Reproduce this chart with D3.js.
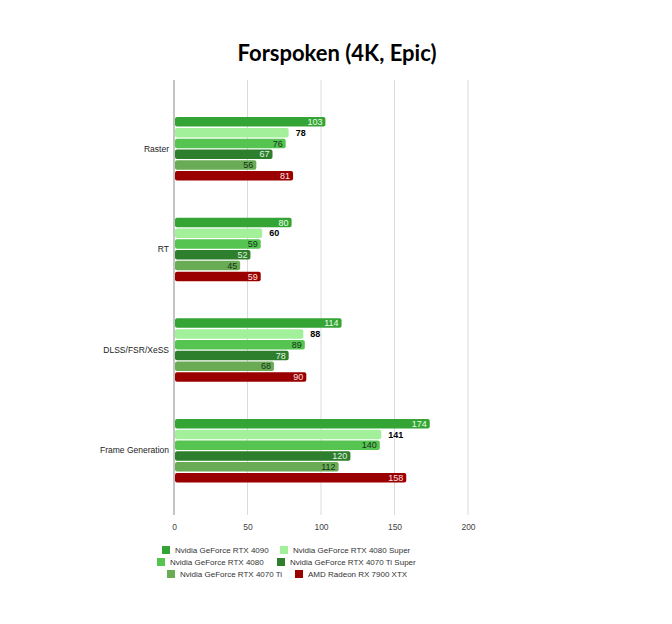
<!DOCTYPE html>
<html><head><meta charset="utf-8">
<script src="https://cdn.jsdelivr.net/npm/d3@7"></script>
<style>body{margin:0;background:#fff}svg{display:block}</style>
</head><body>
<script>
const categories = ["Raster", "RT", "DLSS/FSR/XeSS", "Frame Generation"];
const seriesNames = ["Nvidia GeForce RTX 4090", "Nvidia GeForce RTX 4080 Super", "Nvidia GeForce RTX 4080", "Nvidia GeForce RTX 4070 Ti Super", "Nvidia GeForce RTX 4070 Ti", "AMD Radeon RX 7900 XTX"];
const rtx4090 = [103, 80, 114, 174];
const rtx4080Super = [78, 60, 88, 141];
const rtx4080 = [76, 59, 89, 140];
const rtx4070TiSuper = [67, 52, 78, 120];
const rtx4070Ti = [56, 45, 68, 112];
const rx7900xtx = [81, 59, 90, 158];
const xTicks = [0, 50, 100, 150, 200];
const colors = ["#34a534", "#a3f09b", "#55c451", "#2d7f2d", "#6aac55", "#9b0000"];
const labelColors = ["#eaffea", "#000000", "#14331a", "#e0f5e0", "#14331a", "#ffe0e0"];
const allSeries = [rtx4090, rtx4080Super, rtx4080, rtx4070TiSuper, rtx4070Ti, rx7900xtx];

const W = 672, H = 624;
const svg = d3.select("body").append("svg").attr("width", W).attr("height", H);

const x = d3.scaleLinear().domain([0, 200]).range([174, 468]);
const y = d3.scaleBand().domain(categories).range([98.5, 501]).paddingInner(0.37).paddingOuter(0.185);
const ys = d3.scaleBand().domain(d3.range(seriesNames.length)).range([0, y.bandwidth()]).paddingInner(0.12);

svg.append("text").attr("x", 337).attr("y", 61).attr("text-anchor", "middle")
  .attr("font-family", "Lato, 'Open Sans', sans-serif").attr("font-weight", "bold")
  .attr("font-size", 22).attr("fill", "#000").text("Forspoken (4K, Epic)");

// grid
svg.append("g").selectAll("line").data(xTicks.slice(1)).join("line")
  .attr("x1", d => x(d)).attr("x2", d => x(d)).attr("y1", 80).attr("y2", 515)
  .attr("stroke", "#dadada").attr("stroke-width", 1);

// x axis labels
const xAxis = d3.axisBottom(x).tickValues(xTicks).tickSize(0).tickPadding(0);
const gx = svg.append("g").attr("transform", "translate(0,524)").call(xAxis);
gx.select(".domain").remove();
gx.selectAll("text").attr("font-family", "Liberation Sans, Arial, sans-serif").attr("font-size", 8.5).attr("fill", "#444");

// y axis labels
const yAxis = d3.axisLeft(y).tickSize(0).tickPadding(5);
const gy = svg.append("g").attr("transform", "translate(174,0)").call(yAxis);
gy.select(".domain").remove();
gy.selectAll("text").attr("font-family", "Liberation Sans, Arial, sans-serif").attr("font-size", 8.5).attr("fill", "#222");

// bars
const groups = svg.append("g").selectAll("g").data(categories).join("g")
  .attr("transform", d => `translate(0,${y(d)})`);
groups.each(function(cat, ci) {
  const g = d3.select(this);
  allSeries.forEach((s, si) => {
    const v = s[ci];
    g.append("rect").attr("x", x(0) + 1).attr("y", ys(si)).attr("width", x(v) - x(0) - 1)
      .attr("height", ys.bandwidth()).attr("rx", 2).attr("fill", colors[si]);
    const outside = si === 1;
    g.append("text")
      .attr("x", outside ? x(v) + 7 : x(v) - 3)
      .attr("y", ys(si) + ys.bandwidth() / 2 + 3.2)
      .attr("text-anchor", outside ? "start" : "end")
      .attr("font-family", "Liberation Sans, Arial, sans-serif")
      .attr("font-size", 9).attr("font-weight", outside ? "bold" : "normal")
      .attr("fill", labelColors[si]).text(v);
  });
});

// axis line
svg.append("line").attr("x1", 174).attr("x2", 174).attr("y1", 80).attr("y2", 515)
  .attr("stroke", "#b0b0b0").attr("stroke-width", 1.5);

// legend
const legendRows = [[0, 1], [2, 3], [4, 5]];
const legendY = [550, 562, 574];
const legendX = [[162, 280], [157, 277], [167, 295]];
legendRows.forEach((row, ri) => {
  row.forEach((si, k) => {
    const lx = legendX[ri][k];
    svg.append("rect").attr("x", lx).attr("y", legendY[ri] - 4).attr("width", 8).attr("height", 8).attr("fill", colors[si]);
    svg.append("text").attr("x", lx + 13).attr("y", legendY[ri] + 3)
      .attr("font-family", "Liberation Sans, Arial, sans-serif").attr("font-size", 8)
      .attr("fill", "#333").text(seriesNames[si]);
  });
});
</script>
</body></html>
